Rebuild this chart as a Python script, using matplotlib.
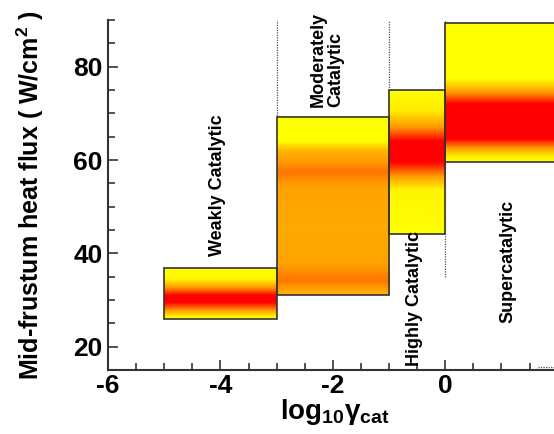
import numpy as np
import matplotlib
matplotlib.use("Agg")
import matplotlib.pyplot as plt
from matplotlib.colors import LinearSegmentedColormap
from matplotlib.ticker import MultipleLocator

plt.rcParams['font.family'] = ['Liberation Sans', 'DejaVu Sans']
plt.rcParams['font.weight'] = 'bold'
plt.rcParams['axes.labelweight'] = 'bold'
plt.rcParams['axes.unicode_minus'] = False
plt.rcParams['mathtext.fontset'] = 'custom'
plt.rcParams['mathtext.rm'] = 'Liberation Sans:bold'
plt.rcParams['mathtext.it'] = 'Liberation Sans:bold'
plt.rcParams['mathtext.bf'] = 'Liberation Sans:bold'
plt.rcParams['mathtext.sf'] = 'Liberation Sans:bold'

# catalytic regimes: log10(gamma) range and heat flux range (W/cm^2)
regimes = ['Weakly Catalytic', 'Moderately\nCatalytic', 'Highly Catalytic', 'Supercatalytic']
x_lo = [-5, -3, -1, 0]
x_hi = [-3, -1, 0, 2]
q_lo = [26.0, 31.0, 44.1, 59.6]
q_hi = [36.8, 69.3, 74.9, 89.3]

# colour stops inside each box (heat flux, intensity 0=yellow .. 1=red)
stops_q = [
    [26.0, 26.5, 28.0, 29.5, 31.0, 32.5, 34.5, 36.8],
    [31.0, 31.5, 34.0, 38.0, 45.0, 54.0, 57.5, 62.0, 64.0, 69.3],
    [44.1, 53.5, 56.5, 59.5, 64.0, 67.0, 70.5, 74.9],
    [59.6, 60.5, 62.6, 64.5, 72.0, 74.5, 77.5, 89.3],
]
stops_c = [
    [0.0, 0.05, 0.55, 1.0, 1.0, 0.55, 0.05, 0.0],
    [0.35, 0.4, 0.62, 0.45, 0.42, 0.45, 0.62, 0.35, 0.0, 0.0],
    [0.0, 0.05, 0.5, 1.0, 1.0, 0.5, 0.1, 0.0],
    [0.0, 0.05, 0.5, 1.0, 1.0, 0.5, 0.0, 0.0],
]

# divider lines between regimes
div_x = [-3, -1, 0]
div_bottom = [69.0, 74.0, 35.0]

xlim = (-6, 2)
ylim = (15, 90)

cmap = LinearSegmentedColormap.from_list('yor', [(0, '#ffff00'), (0.5, '#ff9900'), (1, '#ff0000')])

fig = plt.figure(figsize=(5.54, 4.34), dpi=100)
fig.patch.set_facecolor('white')
ax = fig.add_axes([108 / 554, 64 / 434, 449.6 / 554, 350 / 434])

for xd, yb in zip(div_x, div_bottom):
    ax.plot([xd, xd], [yb, ylim[1]], color='#555555', lw=0.9, ls=(0, (1, 1)), zorder=1)

for i in range(len(regimes)):
    qq = np.linspace(q_lo[i], q_hi[i], 300)
    col = np.interp(qq, stops_q[i], stops_c[i])[::-1].reshape(-1, 1)
    ax.imshow(col, cmap=cmap, vmin=0, vmax=1, aspect='auto', interpolation='bilinear',
              extent=(x_lo[i], x_hi[i], q_lo[i], q_hi[i]), zorder=2)
    ax.add_patch(plt.Rectangle((x_lo[i], q_lo[i]), x_hi[i] - x_lo[i], q_hi[i] - q_lo[i],
                               fill=False, edgecolor='#333333', lw=1.2, zorder=3))

ax.plot([1.65, 2.0], [15.6, 15.6], color='#555555', lw=0.9, ls=(0, (1, 1)), zorder=1)

ax.text(-4.05, 54.7, regimes[0], rotation=90, ha='center', va='center', fontsize=13)
ax.text(-2.1, 71.3, regimes[1], rotation=90, ha='center', va='bottom', fontsize=13,
        multialignment='left', linespacing=1.05)
ax.text(-0.55, 15.9, regimes[2], rotation=90, ha='center', va='bottom', fontsize=13, zorder=4)
ax.text(1.11, 38.3, regimes[3], rotation=90, ha='center', va='center', fontsize=13)

ax.set_xlim(*xlim)
ax.set_ylim(*ylim)
ax.set_xticks([-6, -4, -2, 0])
ax.xaxis.set_minor_locator(MultipleLocator(0.5))
ax.set_yticks([20, 40, 60, 80])
ax.yaxis.set_minor_locator(MultipleLocator(5))
ax.tick_params(which='both', direction='in', width=1.2, color='#333333', labelsize=19)
ax.tick_params(which='major', length=7.5)
ax.tick_params(which='minor', length=5)
ax.tick_params(axis='y', which='major', pad=4)
ax.tick_params(axis='x', which='major', pad=3)
for lab in ax.get_xticklabels() + ax.get_yticklabels():
    lab.set_fontweight('bold')
for s in ['top', 'right']:
    ax.spines[s].set_visible(False)
for s in ['left', 'bottom']:
    ax.spines[s].set_linewidth(1.5)
    ax.spines[s].set_color('#333333')

ax.set_ylabel('Mid-frustum heat flux ( W/cm$^2$ )', fontsize=18, fontweight='bold')
ax.yaxis.set_label_coords(-0.137, 0.5)
ax.set_xlabel(r'$\mathrm{log_{10}\gamma_{cat}}$', fontsize=20)
ax.xaxis.set_label_coords(0.505, -0.078)

fig.savefig('out.png', dpi=100)
